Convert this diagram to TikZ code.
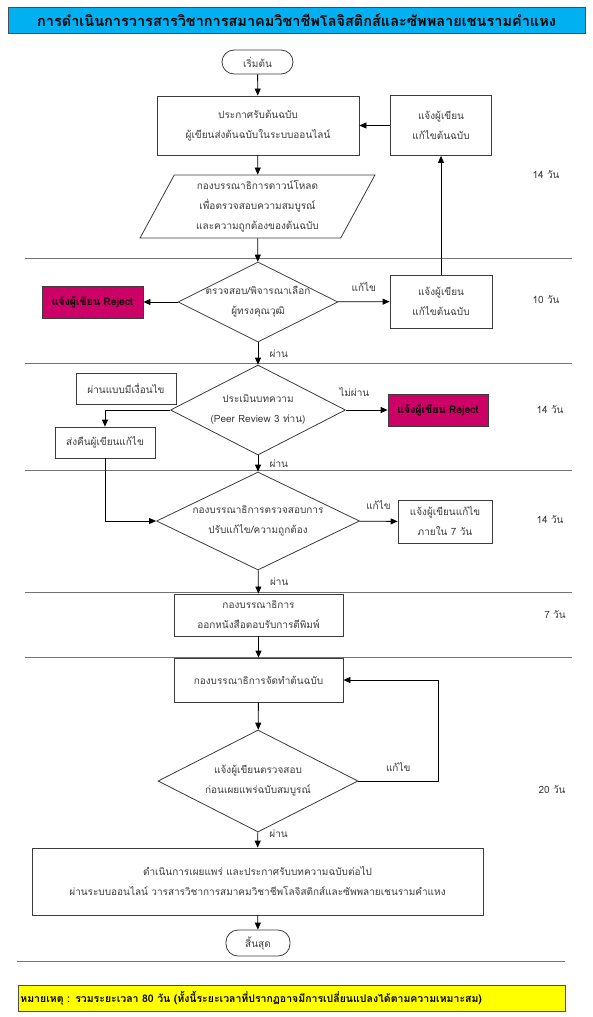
\documentclass[tikz,border=0pt]{standalone}
\usepackage{fontspec}
\setmainfont[Script=Thai]{Loma}
\usetikzlibrary{shapes.geometric}
\usetikzlibrary{arrows.meta}
\definecolor{titleblue}{RGB}{0,176,240}
\definecolor{rejectpink}{RGB}{204,0,102}
\definecolor{noteyellow}{RGB}{255,255,0}
\definecolor{ink}{RGB}{60,60,60}
\tikzstyle{process}=[draw=ink, line width=0.8pt, align=center, inner sep=0pt]
\tikzstyle{terminal}=[process, rounded corners=12pt]
\tikzstyle{io}=[process, trapezium, trapezium left angle=64, trapezium right angle=116, trapezium stretches=true]
\tikzstyle{decision}=[process, diamond]
\tikzstyle{reject}=[process, fill=rejectpink, text=black, font=\bfseries\fontsize{10.5}{20}\selectfont]
\tikzstyle{flow}=[draw=black, line width=0.8pt, -{Triangle[length=7pt,width=6pt]}]
\tikzstyle{lane}=[draw=black!55, line width=1pt]
\tikzstyle{choice}=[font=\fontsize{10}{12}\selectfont]

\begin{document}
\begin{tikzpicture}[x=1pt, y=-1pt, font=\fontsize{10}{20}\selectfont, text=ink]
          \fill[white] (0,0) rectangle (592,1017);
          \useasboundingbox (0,0) rectangle (592,1017);
          % heading
          \node[draw=black!70, line width=0.8pt, fill=titleblue, minimum width=577, minimum height=26, text=black, font=\bfseries\fontsize{14.5}{16}\selectfont]
            (title) at (296.5,20) {การดำเนินการวารสารวิชาการสมาคมวิชาชีพโลจิสติกส์และซัพพลายเชนรามคำแหง};
          % lanes
          \draw[lane] (25,258) -- (572,258);
          \draw[lane] (25,363) -- (572,363);
          \draw[lane] (25,470) -- (572,470);
          \draw[lane] (25,592) -- (572,592);
          \draw[lane] (25,657) -- (572,657);
          \draw[lane] (17,961) -- (565,961);
          % steps
          \node[terminal, minimum width=71, minimum height=24] (start) at (257.5,62) {เริ่มต้น};
          \node[process, minimum width=202, minimum height=59] (submit) at (258,125.5)
            {ประกาศรับต้นฉบับ\\ผู้เขียนส่งต้นฉบับในระบบออนไลน์};
          \node[process, minimum width=101, minimum height=60] (revise1) at (441,125.5)
            {แจ้งผู้เขียน\\แก้ไขต้นฉบับ};
          \node[io, minimum width=235, minimum height=63] (download) at (257.5,206.5)
            {กองบรรณาธิการดาวน์โหลด\\เพื่อตรวจสอบความสมบูรณ์\\และความถูกต้องของต้นฉบับ};
          \node[decision, minimum width=160, minimum height=80,
            label={[align=center]center:ตรวจสอบ/พิจารณาเลือก\\ผู้ทรงคุณวุฒิ}] (screen) at (258,302) {};
          \node[reject, minimum width=101, minimum height=32] (reject1) at (92.5,302) {แจ้งผู้เขียน Reject};
          \node[process, minimum width=102, minimum height=53] (revise2) at (441,301.5)
            {แจ้งผู้เขียน\\แก้ไขต้นฉบับ};
          \node[decision, minimum width=175, minimum height=90,
            label={[align=center]center:ประเมินบทความ\\(Peer Review 3 ท่าน)}] (review) at (258,410) {};
          \node[reject, minimum width=100, minimum height=32] (reject2) at (438,410) {แจ้งผู้เขียน Reject};
          \node[process, minimum width=100, minimum height=31] (cond) at (126,388.5) {ผ่านแบบมีเงื่อนไข};
          \node[process, minimum width=100, minimum height=31] (returned) at (105,442.5) {ส่งคืนผู้เขียนแก้ไข};
          \node[decision, minimum width=203, minimum height=98,
            label={[align=center]center:กองบรรณาธิการตรวจสอบการ\\ปรับแก้ไข/ความถูกต้อง}] (check) at (258,521) {};
          \node[process, minimum width=94, minimum height=43] (fix7) at (445,521.5)
            {แจ้งผู้เขียนแก้ไข\\ภายใน 7 วัน};
          \node[process, minimum width=169, minimum height=42] (accept) at (258.5,615)
            {กองบรรณาธิการ\\ออกหนังสือตอบรับการตีพิมพ์};
          \node[process, minimum width=169, minimum height=44] (prep) at (258.5,680) {กองบรรณาธิการจัดทำต้นฉบับ};
          \node[decision, minimum width=200, minimum height=102,
            label={[align=center]center:แจ้งผู้เขียนตรวจสอบ\\ก่อนเผยแพร่ฉบับสมบูรณ์}] (proof) at (258,781) {};
          \node[process, minimum width=451, minimum height=67] (publish) at (257.5,881.5)
            {ดำเนินการเผยแพร่ และประกาศรับบทความฉบับต่อไป\\ผ่านระบบออนไลน์ วารสารวิชาการสมาคมวิชาชีพโลจิสติกส์และซัพพลายเชนรามคำแหง};
          \node[terminal, minimum width=64, minimum height=26] (finish) at (258,943) {สิ้นสุด};
          \coordinate (loop) at (438,781);
          % durations
          \node[choice] (days1) at (546,175) {14 วัน};
          \node[choice] (days2) at (546,300) {10 วัน};
          \node[choice] (days3) at (550,410) {14 วัน};
          \node[choice] (days4) at (550,520) {14 วัน};
          \node[choice] (days5) at (555,615) {7 วัน};
          \node[choice] (days6) at (552,790) {20 วัน};
          % note
          \node[draw=black!70, line width=0.8pt, fill=noteyellow, text width=543, minimum height=26, inner sep=2pt, align=left,
            anchor=west, text=black, font=\bfseries\fontsize{10.5}{12}\selectfont]
            (note) at (18,998) {หมายเหตุ : รวมระยะเวลา 80 วัน (ทั้งนี้ระยะเวลาที่ปรากฏอาจมีการเปลี่ยนแปลงได้ตามความเหมาะสม)};
          % connectors
          \draw[flow] (start) -- (submit);
          \draw[flow] (submit) -- (download);
          \draw[flow] (download) -- (screen);
          \draw[flow] (screen) -- (reject1);
          \draw[flow] (screen) -- node[choice, above=6pt] {แก้ไข} (revise2);
          \draw[flow] (revise2) -- (revise1);
          \draw[flow] (revise1) -- (submit);
          \draw[flow] (screen) -- node[choice, right=8pt] {ผ่าน} (review);
          \draw[flow] (review) -- node[choice, pos=0.2, above=10pt] {ไม่ผ่าน} (reject2);
          \draw[flow] (review.west) -| (returned.north);
          \draw[flow] (returned.south) |- (check.west);
          \draw[flow] (review) -- node[choice, right=8pt] {ผ่าน} (check);
          \draw[flow] (check) -- node[choice, above=8pt] {แก้ไข} (fix7);
          \draw[flow] (check) -- node[choice, right=8pt] {ผ่าน} (accept);
          \draw[flow] (accept) -- (prep);
          \draw[flow] (prep) -- (proof);
          \draw[flow] (proof.east) -- node[choice, above=6pt] {แก้ไข} (loop) |- (prep.east);
          \draw[flow] (proof) -- node[choice, right=8pt, pos=0.1] {ผ่าน} (publish);
          \draw[flow] (publish) -- (finish);
        \end{tikzpicture}
\end{document}
